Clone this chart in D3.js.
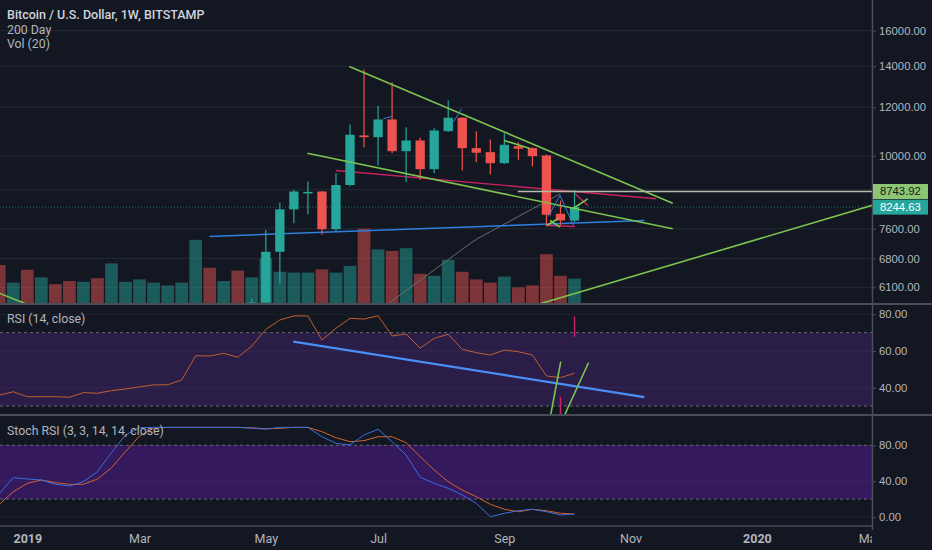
<!DOCTYPE html>
<html>
<head>
<meta charset="utf-8">
<script src="https://cdn.jsdelivr.net/npm/d3@7"></script>
<style>
  body { margin: 0; background: #131722; }
  svg { display: block; font-family: "Liberation Sans", Arial, sans-serif; }
</style>
</head>
<body>
<div id="chart"></div>
<script>
// weekly bars, first bar = week of 2018-12-24 (index -2), index 0 = 2019-01-07
const firstIndex = -2;
const open  = [4000, 3865, 4040, 3570, 3670, 3575, 3415, 3640, 3610, 3850, 3870, 3890, 4000, 4020, 4100, 5060, 5040, 5280, 5170, 5760,
               6970, 8175, 8721, 8744, 7589, 8960, 10793, 10724, 11462, 10174, 10592, 9509, 10969, 11536, 10290, 10136, 9726, 10367, 10290, 10011, 8041, 7841];
const high  = [4250, 4100, 4100, 3750, 3700, 3600, 3700, 3720, 4200, 3950, 3960, 4050, 4100, 4150, 5350, 5470, 5350, 5650, 5850, 7572,
               8380, 8800, 9079, 8760, 9367, 11249, 13832, 12068, 13188, 11135, 10700, 11110, 12311, 11560, 10969, 10632, 10887, 10524, 10320, 10050, 8453, 8800];
const low   = [3680, 3800, 3500, 3550, 3530, 3370, 3380, 3580, 3600, 3720, 3730, 3850, 3950, 3950, 4080, 4950, 5000, 5050, 5150, 5700,
               6180, 7762, 8020, 7430, 7532, 8921, 10329, 9642, 10098, 9055, 9137, 9367, 10940, 9462, 9762, 9321, 9700, 9851, 9606, 7695, 7695, 7791];
const close = [3865, 4040, 3570, 3670, 3575, 3415, 3640, 3610, 3850, 3870, 3890, 4000, 4020, 4100, 5060, 5040, 5280, 5170, 5760, 6970,
               8175, 8744, 8730, 7589, 8960, 10821, 10724, 11462, 10174, 10592, 9509, 10998, 11536, 10290, 10114, 9726, 10422, 10267, 9985, 8011, 7841, 8244.63];
const volume = [95, 51, 83, 64, 47, 55, 53, 62, 99, 53, 59, 51, 44, 51, 158, 88, 55, 81, 64, 112,
                78, 76, 76, 84, 76, 93, 186, 134, 130, 137, 73, 68, 108, 78, 59, 51, 66, 39, 44, 122, 68, 61];
const rsi = [36.0, 37.8, 35.1, 35.1, 35.1, 34.8, 37.3, 37.0, 38.4, 39.3, 40.5, 41.5, 41.6, 44.2, 57.4, 57.3, 58.7, 56.6, 62.7, 71.8,
             76.9, 79.1, 79.1, 66.0, 72.4, 77.8, 77.4, 79.2, 68.2, 69.3, 61.5, 66.9, 69.1, 60.9, 59.1, 57.8, 60.5, 59.6, 57.8, 46.4, 45.5, 47.8];
const stochK = [26, 43.9, 42.4, 41.3, 36.5, 34.6, 39.4, 50.6, 71.8, 91.5, 99.7, 100, 100, 100, 100, 100, 100, 100, 99, 98,
                100, 100, 100, 89.6, 82.2, 80.4, 91.5, 97.9, 84.0, 69.2, 44.3, 37.6, 32.0, 24.6, 15.3, 0.3, 4.1, 7.0, 8.6, 5.9, 2.2, 3.3];
const stochD = [14, 28.2, 37.6, 41.3, 38.3, 36.5, 36.5, 42.4, 55.0, 72.9, 90.4, 99.0, 100, 100, 100, 100, 100, 100, 99.5, 98.5,
                99, 100, 100, 95.2, 88.5, 84.0, 85.2, 89.6, 89.6, 82.9, 67.3, 52.5, 39.4, 30.1, 22.7, 14.2, 8.6, 5.9, 8.6, 7.0, 4.1, 3.3];
// 200 day average, weeks 25..38
const maStart = 25;
const ma200 = [5596, 5795, 6027, 6262, 6512, 6769, 7036, 7306, 7518, 7735, 7960, 8190, 8428, 8672];

const priceTicks = [16000, 14000, 12000, 10000, 8800, 7600, 6800, 6100];
const rsiTicks = [80, 60, 40];
const stochTicks = [80, 40, 0];
const timeTickDates = ["2019-01-07", "2019-03-04", "2019-05-06", "2019-07-01", "2019-09-02", "2019-11-04", "2020-01-06", "2020-03-02"];
const timeTickLabels = ["2019", "Mar", "May", "Jul", "Sep", "Nov", "2020", "Mar"];

const lastPrice = 8244.63;
const levelPrice = 8743.92;
const levelFrom = 34.95;

// drawn lines: [bar index, price]
const greenLines = [
  [[22.95, 13989], [46.0, 8368]],
  [[19.96, 10098], [46.0, 7600]],
  [[36.54, 5733], [60.3, 8310]],
  [[-2.5, 6030], [-0.16, 5739]],
  [[33.98, 10592], [35.83, 10278]],
  [[38.87, 8194], [39.94, 8507]],
  [[37.02, 7695], [37.82, 7891]],
  [[37.26, 7841], [37.97, 7646]]
];
const pinkLines = [
  [[22.0, 9462], [44.81, 8507]],
  [[39.04, 8668], [39.96, 8296]],
  [[36.97, 7695], [39.04, 7666]]
];
const blueThinLines = [
  [[37.13, 7960], [37.97, 8614], [38.92, 7695]],
  [[25.37, 11492], [25.97, 11592]],
  [[30.36, 11346], [30.96, 11933]]
];
const blueMainLine = [[12.97, 7383], [43.98, 7841]];
// drawn lines in the RSI pane: [bar index, rsi]
const rsiBlueLine = [[18.96, 65.1], [43.98, 34.9]];
const rsiGreenLines = [[[37.2, 21], [38.02, 54.2]], [[38.05, 21], [40.0, 53.6]]];
const rsiPinkLines = [[[39.0, 78.7], [39.0, 67.8]], [[38.0, 35.1], [38.0, 20]]];

const width = 932, height = 550;
const plotRight = 872;
const mainBottom = 303, rsiTop = 305, rsiBottom = 414, stochTop = 416, stochBottom = 526;

const bars = close.map((c, i) => ({
  i: i + firstIndex, o: open[i], h: high[i], l: low[i], c: c, v: volume[i]
}));

const origin = new Date(Date.UTC(2019, 0, 7));
const x = d3.scaleLinear().domain([0, 52]).range([27.3, 756.9]);
const y = d3.scaleLog().domain([6100, 16000]).range([287.3, 30.7]);
const yVol = d3.scaleLinear().domain([0, 200]).range([mainBottom, 223]);
const yRsi = d3.scaleLinear().domain([80, 40]).range([314.3, 387.7]);
const yStoch = d3.scaleLinear().domain([0, 80]).range([517, 445.3]);

const up = "#26a69a", down = "#ef5350";
const gridColor = "#262a35";
const textColor = "#b2b5be";

const svg = d3.select("#chart").append("svg")
  .attr("width", width)
  .attr("height", height)
  .attr("viewBox", [0, 0, width, height]);

svg.append("rect").attr("width", width).attr("height", height).attr("fill", "#131722");

const defs = svg.append("defs");
function clip(id, y0, y1) {
  defs.append("clipPath").attr("id", id)
    .append("rect").attr("x", 0).attr("y", y0).attr("width", plotRight).attr("height", y1 - y0);
}
clip("clipMain", 0, mainBottom);
clip("clipRsi", rsiTop, rsiBottom);
clip("clipStoch", stochTop, stochBottom);
clip("clipTime", 0, height);

// bands
svg.append("rect").attr("x", 0).attr("width", plotRight)
  .attr("y", yRsi(70)).attr("height", yRsi(30) - yRsi(70)).attr("fill", "#2a1d48");
svg.append("rect").attr("x", 0).attr("width", plotRight)
  .attr("y", yStoch(80)).attr("height", yStoch(20) - yStoch(80)).attr("fill", "#34195e");

// time axis (vertical grid + labels)
const tickIdx = timeTickDates.map(s => d3.utcMonday.count(origin, new Date(s + "T00:00:00Z")));
const timeAxis = d3.axisBottom(x)
  .tickValues(tickIdx)
  .tickFormat((d, i) => timeTickLabels[i])
  .tickSize(-stochBottom)
  .tickPadding(8);
const gTime = svg.append("g")
  .attr("transform", `translate(0,${stochBottom})`)
  .attr("clip-path", "url(#clipTime)")
  .call(timeAxis);
gTime.select(".domain").remove();
gTime.selectAll(".tick line").attr("stroke", gridColor);
gTime.selectAll(".tick text")
  .attr("fill", textColor)
  .attr("font-family", "Roboto, sans-serif")
  .attr("font-size", 12.5)
  .attr("font-weight", (d, i) => /^\d+$/.test(timeTickLabels[i]) ? 700 : 400);
gTime.selectAll(".tick").filter(d => x(d) > plotRight).select("line").remove();

// horizontal grids
svg.append("g").selectAll("line").data(priceTicks).join("line")
  .attr("x1", 0).attr("x2", plotRight)
  .attr("y1", d => y(d)).attr("y2", d => y(d))
  .attr("stroke", gridColor);
svg.append("g").selectAll("line").data(rsiTicks).join("line")
  .attr("x1", 0).attr("x2", plotRight)
  .attr("y1", d => yRsi(d)).attr("y2", d => yRsi(d))
  .attr("stroke", "#ffffff").attr("stroke-opacity", 0.05);
svg.append("g").selectAll("line").data(stochTicks).join("line")
  .attr("x1", 0).attr("x2", plotRight)
  .attr("y1", d => yStoch(d)).attr("y2", d => yStoch(d))
  .attr("stroke", "#ffffff").attr("stroke-opacity", 0.05);

// dashed band edges
svg.append("g").selectAll("line").data([yRsi(70), yRsi(30), yStoch(80), yStoch(20)]).join("line")
  .attr("x1", 0).attr("x2", plotRight)
  .attr("y1", d => d).attr("y2", d => d)
  .attr("stroke", "#787b86").attr("stroke-opacity", 0.8)
  .attr("stroke-dasharray", "3,3");

// ---- main pane ----
const main = svg.append("g").attr("clip-path", "url(#clipMain)");
const bw = 12.7, cw = 9.3;

main.append("g").selectAll("rect").data(bars).join("rect")
  .attr("x", d => x(d.i) - bw / 2)
  .attr("width", bw)
  .attr("y", d => yVol(d.v))
  .attr("height", d => yVol(0) - yVol(d.v))
  .attr("fill", d => d.c >= d.o ? up : down)
  .attr("fill-opacity", 0.48);

const line = d3.line().x(d => x(d[0])).y(d => y(d[1]));

// 200 day
main.append("path")
  .attr("d", d3.line().x((d, k) => x(maStart + k)).y(d => y(d))(ma200))
  .attr("fill", "none").attr("stroke", "#6a6d78").attr("stroke-width", 1);

// current price line
main.append("line")
  .attr("x1", 0).attr("x2", plotRight)
  .attr("y1", y(lastPrice)).attr("y2", y(lastPrice))
  .attr("stroke", up).attr("stroke-opacity", 0.6).attr("stroke-dasharray", "1,2");

main.append("path").attr("d", line(blueMainLine))
  .attr("fill", "none").attr("stroke", "#2f7fe0").attr("stroke-width", 1.5);
main.append("g").selectAll("path").data(pinkLines).join("path")
  .attr("d", line).attr("fill", "none").attr("stroke", "#c8225f").attr("stroke-width", 1.4);

const candles = main.append("g").selectAll("g").data(bars).join("g");
candles.append("line")
  .attr("x1", d => x(d.i)).attr("x2", d => x(d.i))
  .attr("y1", d => y(d.h)).attr("y2", d => y(d.l))
  .attr("stroke", d => d.c >= d.o ? up : down).attr("stroke-width", 1.2);
candles.append("rect")
  .attr("x", d => x(d.i) - cw / 2)
  .attr("width", cw)
  .attr("y", d => y(Math.max(d.o, d.c)))
  .attr("height", d => Math.max(1.5, y(Math.min(d.o, d.c)) - y(Math.max(d.o, d.c))))
  .attr("fill", d => d.c >= d.o ? up : down);

main.append("g").selectAll("path").data(greenLines).join("path")
  .attr("d", line).attr("fill", "none").attr("stroke", "#7cc44f").attr("stroke-width", 1.6);
main.append("g").selectAll("path").data(blueThinLines).join("path")
  .attr("d", line).attr("fill", "none").attr("stroke", "#3a7be0").attr("stroke-width", 1);

// horizontal level
main.append("line")
  .attr("x1", x(levelFrom)).attr("x2", plotRight)
  .attr("y1", y(levelPrice)).attr("y2", y(levelPrice))
  .attr("stroke", "#b4bea6").attr("stroke-width", 1.5);

// ---- RSI pane ----
const rsiG = svg.append("g").attr("clip-path", "url(#clipRsi)");
rsiG.append("path")
  .attr("d", d3.line().x(d => x(d.i)).y((d, k) => yRsi(rsi[k]))(bars))
  .attr("fill", "none").attr("stroke", "#c0602f").attr("stroke-width", 1);
const rsiLine = d3.line().x(d => x(d[0])).y(d => yRsi(d[1]));
rsiG.append("path").attr("d", rsiLine(rsiBlueLine))
  .attr("fill", "none").attr("stroke", "#4a8ff5").attr("stroke-width", 2.2);
rsiG.append("g").selectAll("path").data(rsiGreenLines).join("path")
  .attr("d", rsiLine).attr("fill", "none").attr("stroke", "#7cc44f").attr("stroke-width", 1.6);
rsiG.append("g").selectAll("path").data(rsiPinkLines).join("path")
  .attr("d", rsiLine).attr("fill", "none").attr("stroke", "#d0246a").attr("stroke-width", 1.4);

// ---- Stoch RSI pane ----
const stG = svg.append("g").attr("clip-path", "url(#clipStoch)");
stG.append("path")
  .attr("d", d3.line().x(d => x(d.i)).y((d, k) => yStoch(stochD[k]))(bars))
  .attr("fill", "none").attr("stroke", "#d2642c").attr("stroke-width", 1);
stG.append("path")
  .attr("d", d3.line().x(d => x(d.i)).y((d, k) => yStoch(stochK[k]))(bars))
  .attr("fill", "none").attr("stroke", "#3a6fe0").attr("stroke-width", 1);

// ---- separators ----
const sep = "#4a4d57";
svg.append("line").attr("x1", 0).attr("x2", width).attr("y1", 304).attr("y2", 304).attr("stroke", sep).attr("stroke-width", 2);
svg.append("line").attr("x1", 0).attr("x2", width).attr("y1", 415).attr("y2", 415).attr("stroke", sep).attr("stroke-width", 2);
svg.append("line").attr("x1", 0).attr("x2", plotRight).attr("y1", stochBottom).attr("y2", stochBottom).attr("stroke", sep).attr("stroke-width", 1.5);
svg.append("line").attr("x1", plotRight + 0.5).attr("x2", plotRight + 0.5).attr("y1", 0).attr("y2", 530).attr("stroke", sep).attr("stroke-width", 1.5);

// ---- right axes ----
function rightAxis(scale, ticks, fmt, y0, y1) {
  const g = svg.append("g").attr("transform", `translate(${plotRight},0)`)
    .call(d3.axisRight(scale).tickValues(ticks.filter(t => scale(t) > y0 && scale(t) < y1)).tickFormat(fmt).tickSize(4).tickPadding(3));
  g.select(".domain").remove();
  g.selectAll(".tick line").attr("stroke", sep);
  g.selectAll(".tick text").attr("fill", textColor).attr("font-size", 11.3);
  return g;
}
rightAxis(y, priceTicks, d3.format(".2f"), 0, mainBottom);
rightAxis(yRsi, rsiTicks, d3.format(".2f"), rsiTop, rsiBottom);
rightAxis(yStoch, stochTicks, d3.format(".2f"), stochTop, stochBottom);

// price labels
function priceTag(price, fill, color) {
  const g = svg.append("g").attr("transform", `translate(${plotRight + 1},${y(price)})`);
  g.append("rect").attr("x", 0).attr("y", -7.5).attr("width", 55).attr("height", 15).attr("fill", fill);
  g.append("text").attr("x", 7).attr("dy", "0.35em").attr("fill", color)
    .attr("font-size", 11.3).text(d3.format(".2f")(price));
}
priceTag(levelPrice, "#8dc673", "#131722");
priceTag(lastPrice, up, "#ffffff");

// ---- legends ----
const legend = [
  ["Bitcoin / U.S. Dollar, 1W, BITSTAMP", 18.5, 500, "#d1d4dc"],
  ["200 Day", 33.5, 400, textColor],
  ["Vol (20)", 47.5, 400, textColor],
  ["RSI (14, close)", 322.5, 400, textColor],
  ["Stoch RSI (3, 3, 14, 14, close)", 434.5, 400, textColor]
];
svg.append("g").selectAll("text").data(legend).join("text")
  .attr("x", 7).attr("y", d => d[1])
  .attr("font-family", "Roboto, sans-serif")
  .attr("font-size", d => d[2] === 500 ? 12.5 : 12.3).attr("font-weight", d => d[2]).attr("fill", d => d[3])
  .text(d => d[0]);
</script>
</body>
</html>
